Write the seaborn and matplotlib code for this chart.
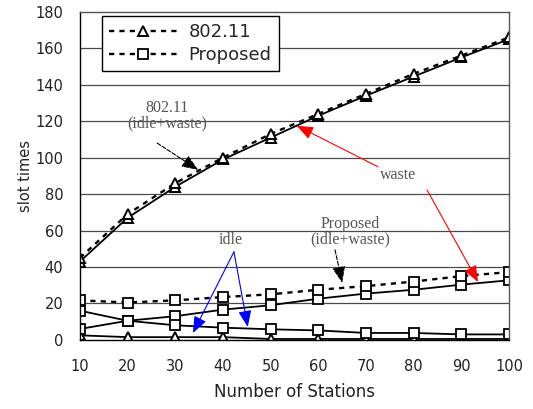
import pandas as pd
import seaborn as sns
import matplotlib.pyplot as plt
import numpy as np

# Data
stations = [10, 20, 30, 40, 50, 60, 70, 80, 90, 100]

dcf_total = [45, 69, 86, 100, 113, 124, 135, 146, 156, 166]
dcf_waste = [43, 67, 84, 99, 111, 123, 134, 144.5, 155, 165]
dcf_idle = [2.5, 1.5, 1.5, 1.5, 0.5, 0.5, 0.5, 0.5, 0.5, 0.5]

prop_total = [21.7, 20.5, 21.7, 23.5, 25, 27.5, 29.5, 32, 35, 37.2]
prop_waste = [6, 10.5, 13, 16.6, 19, 22.6, 25.4, 27.5, 30.3, 32.7]
prop_idle = [16, 10.5, 8, 6.7, 5.8, 5.2, 3.8, 3.8, 3, 3]

sns.set_style("white")
plt.rcParams['font.family'] = ['DejaVu Sans']

fig = plt.figure(figsize=(5.33, 4.09), dpi=100)
ax = fig.add_axes([0.150, 0.169, 0.805, 0.802])

# Horizontal grid
for g in range(20, 180, 20):
    ax.axhline(g, color='#4a4a4a', lw=0.9, zorder=0)

tri = dict(marker='^', markersize=7.5, markerfacecolor='white',
           markeredgecolor='black', markeredgewidth=1.4, color='black')
sq = dict(marker='s', markersize=6.5, markerfacecolor='white',
          markeredgecolor='black', markeredgewidth=1.3, color='black')
dotted = (0, (2.2, 2.2))

sns.lineplot(x=stations, y=dcf_waste, ax=ax, lw=1.3, label='_nolegend_', **tri)
sns.lineplot(x=stations, y=dcf_idle, ax=ax, lw=1.3, label='_nolegend_', **tri)
sns.lineplot(x=stations, y=dcf_total, ax=ax, lw=1.7, linestyle=dotted, label='802.11', **tri)

sns.lineplot(x=stations, y=prop_waste, ax=ax, lw=1.3, label='_nolegend_', **sq)
sns.lineplot(x=stations, y=prop_idle, ax=ax, lw=1.3, label='_nolegend_', **sq)
sns.lineplot(x=stations, y=prop_total, ax=ax, lw=1.7, linestyle=dotted, label='Proposed', **sq)

ax.set_xlim(10, 100)
ax.set_ylim(0, 180)
ax.set_xticks(stations)
ax.set_yticks(range(0, 181, 20))
ax.tick_params(axis='both', length=0, labelsize=10.5, labelcolor='#222222')
ax.tick_params(axis='y', pad=12)
ax.tick_params(axis='x', pad=14)
ax.set_xlabel('Number of Stations', fontsize=12, color='#222222', labelpad=6)
ax.set_ylabel('slot times', fontsize=10.5, color='#222222', labelpad=2)

ax.spines['left'].set_color('black')
ax.spines['bottom'].set_color('black')
for s in ['top', 'right']:
    ax.spines[s].set_color('#555555')
for s in ax.spines.values():
    s.set_linewidth(1)

leg = ax.legend(loc='upper left', bbox_to_anchor=(0.051, 0.987), borderaxespad=0,
                fontsize=13, handlelength=3.8, fancybox=False, framealpha=1,
                edgecolor='black', borderpad=0.4, labelspacing=0.25, handletextpad=0.6)
leg.get_frame().set_linewidth(1)

# Annotations
serif = dict(family='Liberation Serif', fontsize=11.5, color='#555555', ha='center', linespacing=0.95)
head = '-|>,head_length=1.0,head_width=0.4'

ax.text(28.3, 123, '802.11\n(idle+waste)', va='center', **serif)
ax.annotate('', xy=(34.8, 93.3), xytext=(26.2, 108),
            arrowprops=dict(arrowstyle=head, linestyle='--',
                            color='black', lw=0.8, shrinkA=0, shrinkB=0))

ax.text(66.6, 59.3, 'Proposed\n(idle+waste)', va='center', **serif)
ax.annotate('', xy=(65.0, 31.3), xytext=(63.5, 49.4),
            arrowprops=dict(arrowstyle=head, linestyle='--',
                            color='black', lw=0.8, shrinkA=0, shrinkB=0))

ax.text(76.7, 90.6, 'waste', va='center', **serif)
for tip in [(55.5, 117.5), (93.5, 31.8)]:
    start = (72.5, 95) if tip[0] < 70 else (82.8, 82.3)
    ax.annotate('', xy=tip, xytext=start,
                arrowprops=dict(arrowstyle=head, color='red', lw=0.8, shrinkA=0, shrinkB=0))

ax.text(41.7, 54.9, 'idle', va='center', **serif)
for tip in [(33.7, 3.8), (45.2, 7.1)]:
    ax.annotate('', xy=tip, xytext=(42.3, 48.3),
                arrowprops=dict(arrowstyle=head, color='blue', lw=0.8, shrinkA=0, shrinkB=0))

fig.savefig('out.png', dpi=100)
